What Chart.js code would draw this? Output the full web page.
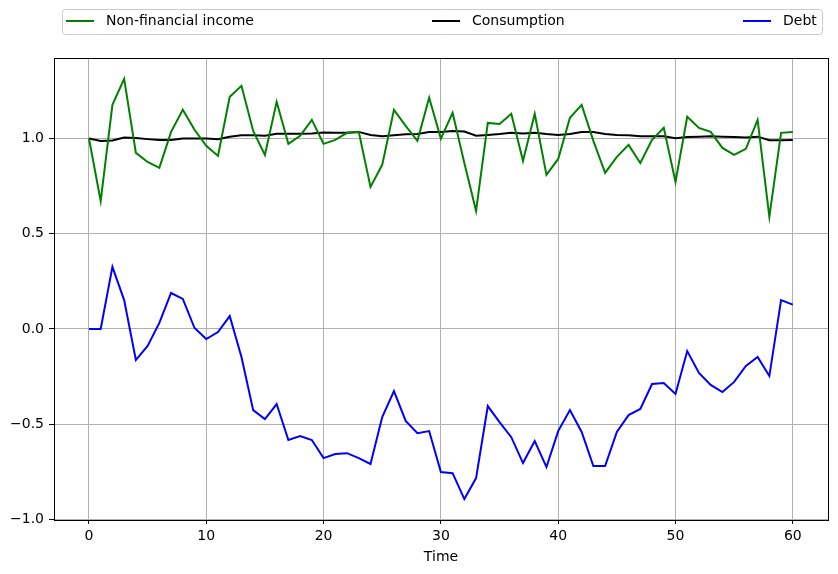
<!DOCTYPE html>
<html>
<head>
<meta charset="utf-8">
<script src="https://cdn.jsdelivr.net/npm/chart.js@4"></script>
<style>
  html, body { margin: 0; padding: 0; background: #fff; }
  #wrap { width: 838px; height: 574px; }
</style>
</head>
<body>
<div id="wrap"><canvas id="chart" width="838" height="574"></canvas></div>
<script>
// Datos
const time = Array.from({ length: 61 }, (_, i) => i);
const income = [1.0, 0.672, 1.177, 1.313, 0.925, 0.877, 0.846, 1.035, 1.151, 1.046,
  0.962, 0.909, 1.219, 1.277, 1.040, 0.914, 1.193, 0.972, 1.014, 1.098,
  0.972, 0.993, 1.030, 1.035, 0.746, 0.862, 1.151, 1.067, 0.988, 1.214,
  1.0, 1.135, 0.872, 0.620, 1.082, 1.077, 1.130, 0.883, 1.130, 0.809,
  0.893, 1.109, 1.177, 0.988, 0.820, 0.904, 0.967, 0.872, 0.993, 1.056,
  0.772, 1.114, 1.056, 1.035, 0.951, 0.914, 0.946, 1.098, 0.589, 1.030, 1.035];
const consumption = [1.0, 0.987, 0.990, 1.005, 1.003, 0.997, 0.992, 0.992, 1.0, 1.0,
  1.0, 0.997, 1.010, 1.017, 1.017, 1.015, 1.025, 1.025, 1.025, 1.027,
  1.032, 1.030, 1.030, 1.035, 1.019, 1.012, 1.017, 1.022, 1.024, 1.034,
  1.034, 1.040, 1.037, 1.015, 1.019, 1.024, 1.031, 1.026, 1.031, 1.024,
  1.019, 1.024, 1.034, 1.034, 1.024, 1.019, 1.017, 1.012, 1.012, 1.012,
  1.002, 1.008, 1.010, 1.012, 1.010, 1.008, 1.006, 1.010, 0.991, 0.991, 0.993];
const debt = [0.0, 0.0, 0.326, 0.152, -0.163, -0.089, 0.032, 0.189, 0.158, 0.005,
  -0.053, -0.016, 0.068, -0.147, -0.426, -0.473, -0.394, -0.583, -0.562, -0.583,
  -0.678, -0.657, -0.652, -0.678, -0.709, -0.462, -0.326, -0.483, -0.547, -0.536,
  -0.751, -0.757, -0.893, -0.783, -0.405, -0.489, -0.568, -0.704, -0.588, -0.725,
  -0.536, -0.426, -0.541, -0.720, -0.720, -0.541, -0.452, -0.420, -0.289, -0.284,
  -0.341, -0.116, -0.231, -0.294, -0.331, -0.278, -0.194, -0.147, -0.247, 0.152, 0.128];
const xTicks = [0, 10, 20, 30, 40, 50, 60];
const yTicks = [-1.0, -0.5, 0.0, 0.5, 1.0];

const FONT = 'DejaVu Sans';
const FSIZE = 14;

function pts(values) {
  return values.map((v, i) => ({ x: time[i], y: v }));
}

// Leyenda tipo matplotlib (mode="expand") y marco de los ejes
const frameLegend = {
  id: 'frameLegend',
  afterDraw(c) {
    const ctx = c.ctx;
    const a = c.chartArea;
    ctx.save();
    ctx.strokeStyle = '#000';
    ctx.lineWidth = 1;
    ctx.strokeRect(Math.round(a.left) + 0.5, Math.round(a.top) + 0.5,
      Math.round(a.right - a.left), Math.round(a.bottom - a.top));

    // caja de la leyenda
    const bx = 62.5, by = 9.5, bw = 760, bh = 25, r = 3;
    ctx.beginPath();
    ctx.moveTo(bx + r, by);
    ctx.arcTo(bx + bw, by, bx + bw, by + bh, r);
    ctx.arcTo(bx + bw, by + bh, bx, by + bh, r);
    ctx.arcTo(bx, by + bh, bx, by, r);
    ctx.arcTo(bx, by, bx + bw, by, r);
    ctx.closePath();
    ctx.fillStyle = 'rgba(255,255,255,0.8)';
    ctx.fill();
    ctx.strokeStyle = '#cccccc';
    ctx.stroke();

    const items = [
      { label: 'Non-financial income', color: 'green', x: 66 },
      { label: 'Consumption', color: 'black', x: 432 },
      { label: 'Debt', color: 'blue', x: 743 }
    ];
    ctx.font = FSIZE + 'px ' + FONT;
    ctx.textBaseline = 'middle';
    ctx.fillStyle = '#000';
    items.forEach(it => {
      ctx.beginPath();
      ctx.moveTo(it.x, 21);
      ctx.lineTo(it.x + 28, 21);
      ctx.strokeStyle = it.color;
      ctx.lineWidth = 2;
      ctx.stroke();
      ctx.fillText(it.label, it.x + 40, 21);
    });
    ctx.restore();
  }
};

const ctx = document.getElementById('chart').getContext('2d');
const chart = new Chart(ctx, {
  type: 'line',
  data: {
    datasets: [
      { label: 'Non-financial income', data: pts(income), borderColor: 'green', borderWidth: 2 },
      { label: 'Consumption', data: pts(consumption), borderColor: 'black', borderWidth: 2 },
      { label: 'Debt', data: pts(debt), borderColor: 'blue', borderWidth: 2 }
    ]
  },
  options: {
    responsive: false,
    animation: false,
    parsing: false,
    elements: { point: { radius: 0 }, line: { tension: 0, fill: false } },
    layout: { padding: { top: 58, right: 10, left: 0, bottom: 0 } },
    plugins: { legend: { display: false }, tooltip: { enabled: false } },
    scales: {
      x: {
        type: 'linear',
        min: -2.98,
        max: 63,
        afterBuildTicks: s => { s.ticks = xTicks.map(v => ({ value: v })); },
        afterFit: s => { s.height = 54; },
        grid: { color: '#b0b0b0', lineWidth: 1, tickLength: 4, tickColor: '#000' },
        border: { display: false },
        ticks: { color: '#000', font: { family: FONT, size: FSIZE }, padding: 4, maxRotation: 0,
          callback: v => String(v) },
        title: { display: true, text: 'Time', color: '#000', font: { family: FONT, size: FSIZE },
          padding: { top: 0, bottom: 8 } }
      },
      y: {
        min: -1.003,
        max: 1.423,
        afterBuildTicks: s => { s.ticks = yTicks.map(v => ({ value: v })); },
        afterFit: s => { s.width = 54; },
        grid: { color: '#b0b0b0', lineWidth: 1, tickLength: 5, tickColor: '#000' },
        border: { display: false },
        ticks: { color: '#000', font: { family: FONT, size: FSIZE }, padding: 5,
          callback: v => (v < 0 ? '\u2212' : '') + Math.abs(v).toFixed(1) }
      }
    }
  },
  plugins: [frameLegend]
});
</script>
</body>
</html>
